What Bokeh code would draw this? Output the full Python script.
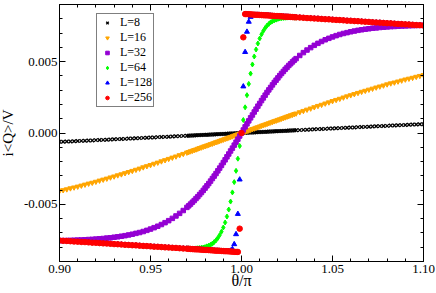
import numpy as np
from bokeh.plotting import figure
from bokeh.models import (FixedTicker, PrintfTickFormatter, LinearAxis, Legend,
                          LegendItem, Range1d, ColumnDataSource, CustomLabelingPolicy)
from bokeh.embed import file_html
from bokeh.resources import INLINE

# ---- sample grid (theta/pi) ----
theta = np.round(np.concatenate([
    np.arange(0.900, 0.9705, 0.002),
    np.arange(0.971, 1.0295, 0.001),
    np.arange(1.030, 1.1005, 0.002)]), 3)

# ---- series values ----
L8 = [-0.00062,-0.00061,-0.0006,-0.00059,-0.00058,-0.00056,-0.00055,-0.00054,-0.00053,-0.00052,-0.0005,-0.00049,-0.00048,-0.00047,-0.00046,-0.00044,-0.00043,-0.00042,-0.00041,-0.00039,-0.00038,-0.00037,-0.00036,-0.00034,-0.00033,-0.00032,-0.00031,-0.00029,-0.00028,-0.00027,-0.00026,-0.00024,-0.00023,-0.00022,-0.0002,-0.00019,
      -0.00019,-0.00018,-0.00017,-0.00017,-0.00016,-0.00015,-0.00015,-0.00014,-0.00013,-0.00013,-0.00012,-0.00012,-0.00011,-0.0001,-0.0001,-0.00009,-0.00008,-0.00008,-0.00007,-0.00006,-0.00006,-0.00005,-0.00004,-0.00004,-0.00003,-0.00003,-0.00002,-0.00001,-0.00001,
      0.0,
      0.00001,0.00001,0.00002,0.00003,0.00003,0.00004,0.00004,0.00005,0.00006,0.00006,0.00007,0.00008,0.00008,0.00009,0.0001,0.0001,0.00011,0.00012,0.00012,0.00013,0.00013,0.00014,0.00015,0.00015,0.00016,0.00017,0.00017,0.00018,0.00019,
      0.00019,0.0002,0.00022,0.00023,0.00024,0.00026,0.00027,0.00028,0.00029,0.00031,0.00032,0.00033,0.00034,0.00036,0.00037,0.00038,0.00039,0.00041,0.00042,0.00043,0.00044,0.00046,0.00047,0.00048,0.00049,0.0005,0.00052,0.00053,0.00054,0.00055,0.00056,0.00058,0.00059,0.0006,0.00061,0.00062]

L16 = [-0.00406,-0.004,-0.00394,-0.00387,-0.00381,-0.00375,-0.00368,-0.00361,-0.00354,-0.00348,-0.00341,-0.00333,-0.00326,-0.00319,-0.00311,-0.00304,-0.00296,-0.00289,-0.00281,-0.00273,-0.00265,-0.00257,-0.00249,-0.0024,-0.00232,-0.00224,-0.00215,-0.00207,-0.00198,-0.0019,-0.00181,-0.00172,-0.00164,-0.00155,-0.00146,-0.00137,
       -0.00133,-0.00128,-0.00124,-0.00119,-0.00115,-0.0011,-0.00105,-0.00101,-0.00096,-0.00092,-0.00087,-0.00083,-0.00078,-0.00074,-0.00069,-0.00064,-0.0006,-0.00055,-0.00051,-0.00046,-0.00041,-0.00037,-0.00032,-0.00028,-0.00023,-0.00018,-0.00014,-0.00009,-0.00005,
       0.0,
       0.00005,0.00009,0.00014,0.00018,0.00023,0.00028,0.00032,0.00037,0.00041,0.00046,0.00051,0.00055,0.0006,0.00064,0.00069,0.00074,0.00078,0.00083,0.00087,0.00092,0.00096,0.00101,0.00105,0.0011,0.00115,0.00119,0.00124,0.00128,0.00133,
       0.00137,0.00146,0.00155,0.00164,0.00172,0.00181,0.0019,0.00198,0.00207,0.00215,0.00224,0.00232,0.0024,0.00249,0.00257,0.00265,0.00273,0.00281,0.00289,0.00296,0.00304,0.00311,0.00319,0.00326,0.00333,0.00341,0.00348,0.00354,0.00361,0.00368,0.00375,0.00381,0.00387,0.00394,0.004,0.00406]

L32 = [-0.00754,-0.00754,-0.00753,-0.00752,-0.00751,-0.0075,-0.00749,-0.00748,-0.00746,-0.00745,-0.00743,-0.00741,-0.00739,-0.00736,-0.00734,-0.0073,-0.00727,-0.00723,-0.00719,-0.00714,-0.00709,-0.00703,-0.00697,-0.0069,-0.00682,-0.00673,-0.00663,-0.00653,-0.00641,-0.00628,-0.00614,-0.00598,-0.00581,-0.00563,-0.00543,-0.00521,
       -0.0051,-0.00498,-0.00485,-0.00473,-0.00459,-0.00446,-0.00431,-0.00417,-0.00402,-0.00386,-0.0037,-0.00354,-0.00337,-0.00319,-0.00302,-0.00284,-0.00265,-0.00246,-0.00227,-0.00207,-0.00188,-0.00167,-0.00147,-0.00126,-0.00106,-0.00085,-0.00064,-0.00043,-0.00021,
       0.0,
       0.00021,0.00043,0.00064,0.00085,0.00106,0.00126,0.00147,0.00167,0.00188,0.00207,0.00227,0.00246,0.00265,0.00284,0.00302,0.00319,0.00337,0.00354,0.0037,0.00386,0.00402,0.00417,0.00431,0.00446,0.00459,0.00473,0.00485,0.00498,0.0051,
       0.00521,0.00543,0.00563,0.00581,0.00598,0.00614,0.00628,0.00641,0.00653,0.00663,0.00673,0.00682,0.0069,0.00697,0.00703,0.00709,0.00714,0.00719,0.00723,0.00727,0.0073,0.00734,0.00736,0.00739,0.00741,0.00743,0.00745,0.00746,0.00748,0.00749,0.0075,0.00751,0.00752,0.00753,0.00754,0.00754]

L64 = [-0.00753,-0.00755,-0.00756,-0.00758,-0.0076,-0.00761,-0.00763,-0.00764,-0.00766,-0.00768,-0.00769,-0.00771,-0.00773,-0.00774,-0.00776,-0.00778,-0.00779,-0.00781,-0.00783,-0.00784,-0.00786,-0.00787,-0.00789,-0.00791,-0.00792,-0.00794,-0.00796,-0.00797,-0.00799,-0.00801,-0.00802,-0.00804,-0.00804,-0.00806,-0.00808,-0.00808,
       -0.00808,-0.00809,-0.00809,-0.00809,-0.00808,-0.00807,-0.00806,-0.00804,-0.00802,-0.00799,-0.00794,-0.00789,-0.00783,-0.00775,-0.00764,-0.00752,-0.00735,-0.00715,-0.00691,-0.00662,-0.00627,-0.00585,-0.00536,-0.0048,-0.00416,-0.00344,-0.00265,-0.0018,-0.00091,
       0.0,
       0.00091,0.0018,0.00265,0.00344,0.00416,0.0048,0.00536,0.00585,0.00627,0.00662,0.00691,0.00715,0.00735,0.00752,0.00764,0.00775,0.00783,0.00789,0.00794,0.00799,0.00802,0.00804,0.00806,0.00807,0.00808,0.00809,0.00809,0.00809,0.00808,
       0.00808,0.00808,0.00806,0.00804,0.00804,0.00802,0.00801,0.00799,0.00797,0.00796,0.00794,0.00792,0.00791,0.00789,0.00787,0.00786,0.00784,0.00783,0.00781,0.00779,0.00778,0.00776,0.00774,0.00773,0.00771,0.00769,0.00768,0.00766,0.00764,0.00763,0.00761,0.0076,0.00758,0.00756,0.00755,0.00753]

L128 = [-0.00753,-0.00755,-0.00756,-0.00758,-0.0076,-0.00761,-0.00763,-0.00764,-0.00766,-0.00768,-0.00769,-0.00771,-0.00773,-0.00774,-0.00776,-0.00778,-0.00779,-0.00781,-0.00783,-0.00784,-0.00786,-0.00787,-0.00789,-0.00791,-0.00792,-0.00794,-0.00796,-0.00797,-0.00799,-0.00801,-0.00802,-0.00804,-0.00805,-0.00807,-0.00809,-0.0081,
        -0.00811,-0.00812,-0.00813,-0.00814,-0.00815,-0.00815,-0.00816,-0.00817,-0.00818,-0.00819,-0.00819,-0.0082,-0.00821,-0.00822,-0.00823,-0.00824,-0.00824,-0.00825,-0.00826,-0.00827,-0.00828,-0.00828,-0.00828,-0.00824,-0.00813,-0.00779,-0.00709,-0.00567,-0.00326,
        0.0,
        0.00326,0.00567,0.00709,0.00779,0.00813,0.00824,0.00828,0.00828,0.00828,0.00827,0.00826,0.00825,0.00824,0.00824,0.00823,0.00822,0.00821,0.0082,0.00819,0.00819,0.00818,0.00817,0.00816,0.00815,0.00815,0.00814,0.00813,0.00812,0.00811,
        0.0081,0.00809,0.00807,0.00805,0.00804,0.00802,0.00801,0.00799,0.00797,0.00796,0.00794,0.00792,0.00791,0.00789,0.00787,0.00786,0.00784,0.00783,0.00781,0.00779,0.00778,0.00776,0.00774,0.00773,0.00771,0.00769,0.00768,0.00766,0.00764,0.00763,0.00761,0.0076,0.00758,0.00756,0.00755,0.00753]

L256 = [-0.00753,-0.00755,-0.00756,-0.00758,-0.0076,-0.00761,-0.00763,-0.00764,-0.00766,-0.00768,-0.00769,-0.00771,-0.00773,-0.00774,-0.00776,-0.00778,-0.00779,-0.00781,-0.00783,-0.00784,-0.00786,-0.00787,-0.00789,-0.00791,-0.00792,-0.00794,-0.00796,-0.00797,-0.00799,-0.00801,-0.00802,-0.00804,-0.00805,-0.00807,-0.00809,-0.0081,
        -0.00811,-0.00812,-0.00813,-0.00814,-0.00815,-0.00815,-0.00816,-0.00817,-0.00818,-0.00819,-0.00819,-0.0082,-0.00821,-0.00822,-0.00823,-0.00824,-0.00824,-0.00825,-0.00826,-0.00827,-0.00828,-0.00828,-0.00829,-0.0083,-0.00831,-0.00832,-0.00833,-0.00833,-0.0067,
        0.0,
        0.0067,0.00833,0.00833,0.00832,0.00831,0.0083,0.00829,0.00828,0.00828,0.00827,0.00826,0.00825,0.00824,0.00824,0.00823,0.00822,0.00821,0.0082,0.00819,0.00819,0.00818,0.00817,0.00816,0.00815,0.00815,0.00814,0.00813,0.00812,0.00811,
        0.0081,0.00809,0.00807,0.00805,0.00804,0.00802,0.00801,0.00799,0.00797,0.00796,0.00794,0.00792,0.00791,0.00789,0.00787,0.00786,0.00784,0.00783,0.00781,0.00779,0.00778,0.00776,0.00774,0.00773,0.00771,0.00769,0.00768,0.00766,0.00764,0.00763,0.00761,0.0076,0.00758,0.00756,0.00755,0.00753]

labels = ["L=8", "L=16", "L=32", "L=64", "L=128", "L=256"]
x_major = [0.90, 0.95, 1.00, 1.05, 1.10]
x_minor = [0.91, 0.92, 0.93, 0.94, 0.96, 0.97, 0.98, 0.99, 1.01, 1.02, 1.03, 1.04, 1.06, 1.07, 1.08, 1.09]
y_major = [-0.005, 0.0, 0.005]
y_minor = [-0.008, -0.007, -0.006, -0.004, -0.003, -0.002, -0.001, 0.001, 0.002, 0.003, 0.004, 0.006, 0.007, 0.008]

FONT = "Liberation Serif"

p = figure(width=440, height=293, x_range=Range1d(0.9, 1.1), y_range=Range1d(-0.009, 0.009),
           output_backend="svg", toolbar_location=None,
           min_border_left=59, min_border_right=13, min_border_top=4, min_border_bottom=32,
           x_axis_label="θ/π", y_axis_label="i<Q>/V")
try:
    from bokeh.models import GlobalInlineStyleSheet
    p.stylesheets = [GlobalInlineStyleSheet(css="html, body { margin: 0 !important; padding: 0; overflow: hidden; }")]
except Exception:
    pass
p.styles = {"margin-left": "-4px"}
p.background_fill_color = "white"
p.border_fill_color = "white"
p.outline_line_color = "black"
p.outline_line_width = 1
p.xgrid.visible = False
p.ygrid.visible = False

xt = FixedTicker(ticks=x_major, minor_ticks=x_minor)
yt = FixedTicker(ticks=y_major, minor_ticks=y_minor)

def style_axis(ax, show_labels):
    ax.axis_line_color = "black"
    ax.axis_line_width = 1
    ax.major_tick_in = 6
    ax.major_tick_out = 0
    ax.minor_tick_in = 3
    ax.minor_tick_out = 0
    ax.major_tick_line_color = "black"
    ax.minor_tick_line_color = "black"
    ax.major_label_text_font = FONT
    ax.major_label_text_color = "black"
    ax.axis_label_text_font = FONT
    ax.axis_label_text_font_style = "normal"
    ax.axis_label_text_color = "black"
    if show_labels:
        ax.major_label_text_font_size = "13px"
        ax.major_label_standoff = 2
    else:
        ax.major_label_policy = CustomLabelingPolicy(
            code="for (const i of Array.from(indices)) { indices.unset(i) }\nreturn indices")
        ax.major_label_text_font_size = "0px"
        ax.major_label_standoff = 0

xa = p.xaxis[0]
xa.ticker = xt
xa.formatter = PrintfTickFormatter(format="%.2f")
style_axis(xa, True)
xa.major_label_standoff = 3
xa.axis_label_text_font_size = "16px"
xa.axis_label_standoff = -4

ya = p.yaxis[0]
ya.ticker = yt
ya.formatter = PrintfTickFormatter(format="%.3f")
style_axis(ya, True)
ya.axis_label_text_font_size = "15px"
ya.axis_label_standoff = 5

top = LinearAxis(ticker=xt)
style_axis(top, False)
p.add_layout(top, "above")
right = LinearAxis(ticker=yt)
style_axis(right, False)
p.add_layout(right, "right")

series = [L8, L16, L32, L64, L128, L256]
markers = ["x", "inverted_triangle", "square", "diamond", "triangle", "circle"]
colors = ["black", "#FFA500", "#9400D3", "#00FF00", "#0000FF", "#FF0000"]
sizes = [5, 5, 4.5, 5, 5, 5.5]
widths = [1.3, 1, 1, 1, 1, 1]

items = []
for ys, lab, mk, col, sz, lw in zip(series, labels, markers, colors, sizes, widths):
    assert len(ys) == len(theta)
    src = ColumnDataSource(dict(x=theta, y=ys))
    r = p.scatter("x", "y", source=src, marker=mk, size=sz, fill_color=col,
                  line_color=col, line_width=lw)
    items.append(LegendItem(label=lab, renderers=[r]))

legend = Legend(items=items, location=(37, 154),
                border_line_color="black", border_line_width=1,
                background_fill_color="white", background_fill_alpha=1.0,
                label_text_font=FONT, label_text_font_size="12px",
                label_text_color="black", label_text_line_height=1.0,
                glyph_width=18, glyph_height=9, label_height=9, label_width=32,
                label_standoff=4, spacing=0, padding=1, margin=0)
p.add_layout(legend)

open("out.html", "w").write(file_html(p, INLINE))
